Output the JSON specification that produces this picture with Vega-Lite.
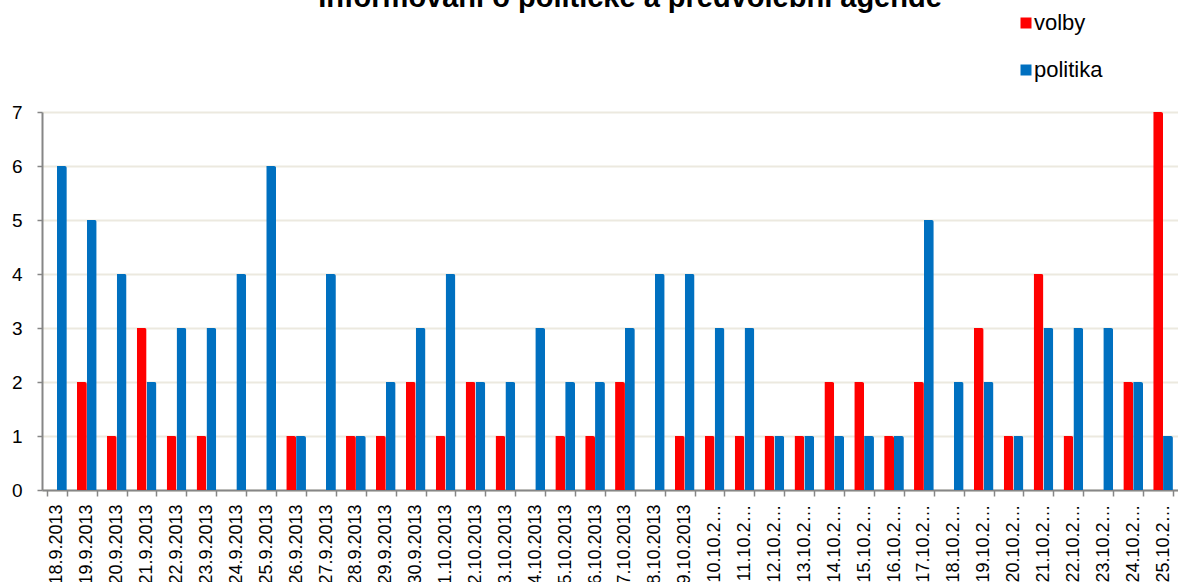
{
  "$schema": "https://vega.github.io/schema/vega-lite/v6.json",
  "width": 1136,
  "height": 378,
  "autosize": "none",
  "padding": {"left": 42, "top": 112, "right": 0, "bottom": 92},
  "title": {
    "text": "Informování o politické a předvolební agendě",
    "font": "Liberation Sans",
    "fontSize": 29,
    "fontWeight": "bold",
    "color": "#000000",
    "anchor": "middle",
    "frame": "group",
    "dx": 20,
    "dy": 24,
    "baseline": "alphabetic",
    "offset": 0
  },
  "data": {
    "values": [
      {"datum": "18.9.2013", "serie": "volby", "hodnota": 0}, {"datum": "18.9.2013", "serie": "politika", "hodnota": 6},
      {"datum": "19.9.2013", "serie": "volby", "hodnota": 2}, {"datum": "19.9.2013", "serie": "politika", "hodnota": 5},
      {"datum": "20.9.2013", "serie": "volby", "hodnota": 1}, {"datum": "20.9.2013", "serie": "politika", "hodnota": 4},
      {"datum": "21.9.2013", "serie": "volby", "hodnota": 3}, {"datum": "21.9.2013", "serie": "politika", "hodnota": 2},
      {"datum": "22.9.2013", "serie": "volby", "hodnota": 1}, {"datum": "22.9.2013", "serie": "politika", "hodnota": 3},
      {"datum": "23.9.2013", "serie": "volby", "hodnota": 1}, {"datum": "23.9.2013", "serie": "politika", "hodnota": 3},
      {"datum": "24.9.2013", "serie": "volby", "hodnota": 0}, {"datum": "24.9.2013", "serie": "politika", "hodnota": 4},
      {"datum": "25.9.2013", "serie": "volby", "hodnota": 0}, {"datum": "25.9.2013", "serie": "politika", "hodnota": 6},
      {"datum": "26.9.2013", "serie": "volby", "hodnota": 1}, {"datum": "26.9.2013", "serie": "politika", "hodnota": 1},
      {"datum": "27.9.2013", "serie": "volby", "hodnota": 0}, {"datum": "27.9.2013", "serie": "politika", "hodnota": 4},
      {"datum": "28.9.2013", "serie": "volby", "hodnota": 1}, {"datum": "28.9.2013", "serie": "politika", "hodnota": 1},
      {"datum": "29.9.2013", "serie": "volby", "hodnota": 1}, {"datum": "29.9.2013", "serie": "politika", "hodnota": 2},
      {"datum": "30.9.2013", "serie": "volby", "hodnota": 2}, {"datum": "30.9.2013", "serie": "politika", "hodnota": 3},
      {"datum": "1.10.2013", "serie": "volby", "hodnota": 1}, {"datum": "1.10.2013", "serie": "politika", "hodnota": 4},
      {"datum": "2.10.2013", "serie": "volby", "hodnota": 2}, {"datum": "2.10.2013", "serie": "politika", "hodnota": 2},
      {"datum": "3.10.2013", "serie": "volby", "hodnota": 1}, {"datum": "3.10.2013", "serie": "politika", "hodnota": 2},
      {"datum": "4.10.2013", "serie": "volby", "hodnota": 0}, {"datum": "4.10.2013", "serie": "politika", "hodnota": 3},
      {"datum": "5.10.2013", "serie": "volby", "hodnota": 1}, {"datum": "5.10.2013", "serie": "politika", "hodnota": 2},
      {"datum": "6.10.2013", "serie": "volby", "hodnota": 1}, {"datum": "6.10.2013", "serie": "politika", "hodnota": 2},
      {"datum": "7.10.2013", "serie": "volby", "hodnota": 2}, {"datum": "7.10.2013", "serie": "politika", "hodnota": 3},
      {"datum": "8.10.2013", "serie": "volby", "hodnota": 0}, {"datum": "8.10.2013", "serie": "politika", "hodnota": 4},
      {"datum": "9.10.2013", "serie": "volby", "hodnota": 1}, {"datum": "9.10.2013", "serie": "politika", "hodnota": 4},
      {"datum": "10.10.2013", "serie": "volby", "hodnota": 1}, {"datum": "10.10.2013", "serie": "politika", "hodnota": 3},
      {"datum": "11.10.2013", "serie": "volby", "hodnota": 1}, {"datum": "11.10.2013", "serie": "politika", "hodnota": 3},
      {"datum": "12.10.2013", "serie": "volby", "hodnota": 1}, {"datum": "12.10.2013", "serie": "politika", "hodnota": 1},
      {"datum": "13.10.2013", "serie": "volby", "hodnota": 1}, {"datum": "13.10.2013", "serie": "politika", "hodnota": 1},
      {"datum": "14.10.2013", "serie": "volby", "hodnota": 2}, {"datum": "14.10.2013", "serie": "politika", "hodnota": 1},
      {"datum": "15.10.2013", "serie": "volby", "hodnota": 2}, {"datum": "15.10.2013", "serie": "politika", "hodnota": 1},
      {"datum": "16.10.2013", "serie": "volby", "hodnota": 1}, {"datum": "16.10.2013", "serie": "politika", "hodnota": 1},
      {"datum": "17.10.2013", "serie": "volby", "hodnota": 2}, {"datum": "17.10.2013", "serie": "politika", "hodnota": 5},
      {"datum": "18.10.2013", "serie": "volby", "hodnota": 0}, {"datum": "18.10.2013", "serie": "politika", "hodnota": 2},
      {"datum": "19.10.2013", "serie": "volby", "hodnota": 3}, {"datum": "19.10.2013", "serie": "politika", "hodnota": 2},
      {"datum": "20.10.2013", "serie": "volby", "hodnota": 1}, {"datum": "20.10.2013", "serie": "politika", "hodnota": 1},
      {"datum": "21.10.2013", "serie": "volby", "hodnota": 4}, {"datum": "21.10.2013", "serie": "politika", "hodnota": 3},
      {"datum": "22.10.2013", "serie": "volby", "hodnota": 1}, {"datum": "22.10.2013", "serie": "politika", "hodnota": 3},
      {"datum": "23.10.2013", "serie": "volby", "hodnota": 0}, {"datum": "23.10.2013", "serie": "politika", "hodnota": 3},
      {"datum": "24.10.2013", "serie": "volby", "hodnota": 2}, {"datum": "24.10.2013", "serie": "politika", "hodnota": 2},
      {"datum": "25.10.2013", "serie": "volby", "hodnota": 7}, {"datum": "25.10.2013", "serie": "politika", "hodnota": 1}
    ]
  },
  "mark": {"type": "bar", "cornerRadiusTopRight": 2},
  "encoding": {
    "x": {
      "field": "datum",
      "type": "nominal",
      "sort": null,
      "scale": {"paddingInner": 0.34, "paddingOuter": 0.17},
      "axis": {
        "title": null,
        "labelAngle": -90,
        "labelAlign": "right",
        "labelBaseline": "middle",
        "labelFont": "Liberation Sans",
        "labelFontSize": 18,
        "labelColor": "#000000",
        "labelLimit": 83,
        "labelPadding": 8,
        "labelOverlap": false,
        "tickBand": "extent",
        "tickSize": 6,
        "tickColor": "#868686",
        "tickWidth": 1.5,
        "domainColor": "#868686",
        "domainWidth": 2,
        "grid": false
      }
    },
    "xOffset": {"field": "serie", "type": "nominal", "sort": ["volby", "politika"], "scale": {"paddingInner": 0}},
    "y": {
      "field": "hodnota",
      "type": "quantitative",
      "scale": {"domain": [0, 7], "nice": false},
      "axis": {
        "title": null,
        "values": [0, 1, 2, 3, 4, 5, 6, 7],
        "labelFont": "Liberation Sans",
        "labelFontSize": 19,
        "labelColor": "#000000",
        "labelPadding": 15,
        "tickSize": 5,
        "tickColor": "#868686",
        "tickWidth": 1.5,
        "domainColor": "#868686",
        "domainWidth": 2,
        "grid": true,
        "gridColor": "#ECE9DF",
        "gridWidth": 2
      }
    },
    "color": {
      "field": "serie",
      "type": "nominal",
      "sort": ["volby", "politika"],
      "scale": {"domain": ["volby", "politika"], "range": ["#FF0000", "#0070C0"]},
      "legend": {
        "title": null,
        "orient": "none",
        "legendX": 973,
        "legendY": -100,
        "direction": "vertical",
        "symbolType": "square",
        "symbolSize": 121,
        "symbolStrokeWidth": 0,
        "labelFont": "Liberation Sans",
        "labelFontSize": 22,
        "labelColor": "#000000",
        "labelOffset": -3,
        "rowPadding": 25
      }
    }
  },
  "config": {
    "view": {"stroke": null},
    "background": "#FFFFFF"
  }
}
